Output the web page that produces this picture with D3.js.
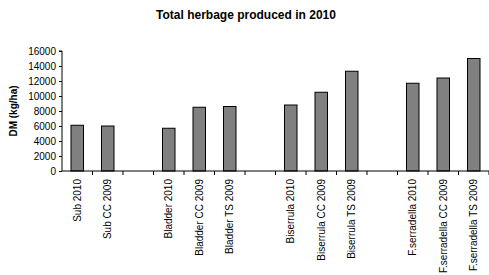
<!DOCTYPE html>
<html>
<head>
<meta charset="utf-8">
<title>Total herbage produced in 2010</title>
<script type="text/javascript" src="https://d3js.org/d3.v7.js"></script>
<style>
    * { margin: 0; padding: 0; }
    body { background: #fff; }
    #chart-container { width: 489px; height: 275px; }
    text { font-family: Arial, "Liberation Sans", sans-serif; }
</style>
</head>
<body>
<div id="chart-container"></div>
<script type="text/javascript">

    // categories (empty slots are the gaps between groups)
    const categories = [
        "Sub 2010", "Sub CC 2009", "",
        "Bladder 2010", "Bladder CC 2009", "Bladder TS 2009", "",
        "Biserrula 2010", "Biserrula CC 2009", "Biserrula TS 2009", "",
        "F.serradella 2010", "F.serradella CC 2009", "F.serradella TS 2009"
    ];
    // DM (kg/ha), null for gaps
    const values = [
        6100, 6000, null,
        5700, 8500, 8600, null,
        8800, 10500, 13300, null,
        11700, 12400, 15000
    ];
    const yTicks = [0, 2000, 4000, 6000, 8000, 10000, 12000, 14000, 16000];

    const width = 489, height = 275;
    const margin = { top: 51, right: 0, bottom: 104, left: 62 };

    const svg = d3.select("#chart-container")
        .append("svg")
        .attr("width", width)
        .attr("height", height);

    const x = d3.scaleBand()
        .domain(d3.range(categories.length))
        .range([margin.left, margin.left + 30.5 * categories.length])
        .paddingInner(0.59)
        .paddingOuter(0.295);

    const y = d3.scaleLinear()
        .domain([0, 16000])
        .range([height - margin.bottom, margin.top]);

    // title
    svg.append("text")
        .attr("x", 246)
        .attr("y", 19)
        .attr("text-anchor", "middle")
        .style("font-size", "12px")
        .style("font-weight", "bold")
        .text("Total herbage produced in 2010");

    // y axis title
    svg.append("text")
        .attr("transform", "translate(17,111) rotate(-90)")
        .attr("text-anchor", "middle")
        .style("font-size", "10px")
        .style("font-weight", "bold")
        .text("DM (kg/ha)");

    // bars
    const data = categories.map((c, i) => ({ i: i, c: c, v: values[i] }))
        .filter(d => d.v != null);

    svg.selectAll("rect.bar")
        .data(data)
        .join("rect")
        .attr("class", "bar")
        .attr("x", d => x(d.i))
        .attr("width", x.bandwidth())
        .attr("y", d => y(d.v))
        .attr("height", d => y(0) - y(d.v))
        .attr("fill", "#808080")
        .attr("stroke", "#000")
        .attr("stroke-width", 1);

    // y axis
    const yAxis = svg.append("g")
        .attr("transform", `translate(${margin.left},0)`)
        .call(d3.axisLeft(y).tickValues(yTicks).tickFormat(d3.format("d")).tickSize(3).tickPadding(3));
    yAxis.select(".domain").attr("d", `M-3,${y(16000)}H0V${y(0)}`);
    yAxis.selectAll("text").style("font-size", "10px").attr("fill", "#000");

    // x axis: line, ticks at slot boundaries
    const x0 = margin.left, x1 = margin.left + 30.5 * categories.length;
    const gx = svg.append("g");
    gx.append("line")
        .attr("x1", x0).attr("x2", x1)
        .attr("y1", y(0)).attr("y2", y(0))
        .attr("stroke", "#000");
    d3.range(1, categories.length + 1).forEach(k => {
        const xx = x0 + 30.5 * k;
        gx.append("line")
            .attr("x1", xx).attr("x2", xx)
            .attr("y1", y(0)).attr("y2", y(0) + 4)
            .attr("stroke", "#000");
    });

    // category labels (rotated)
    gx.selectAll("text")
        .data(categories.map((c, i) => ({ i: i, c: c })).filter(d => d.c))
        .join("text")
        .attr("transform", d => `translate(${x(d.i) + x.bandwidth() / 2 + 3.5},${y(0) + 8}) rotate(-90)`)
        .attr("text-anchor", "end")
        .style("font-size", "10px")
        .text(d => d.c);
</script>
</body>
</html>
